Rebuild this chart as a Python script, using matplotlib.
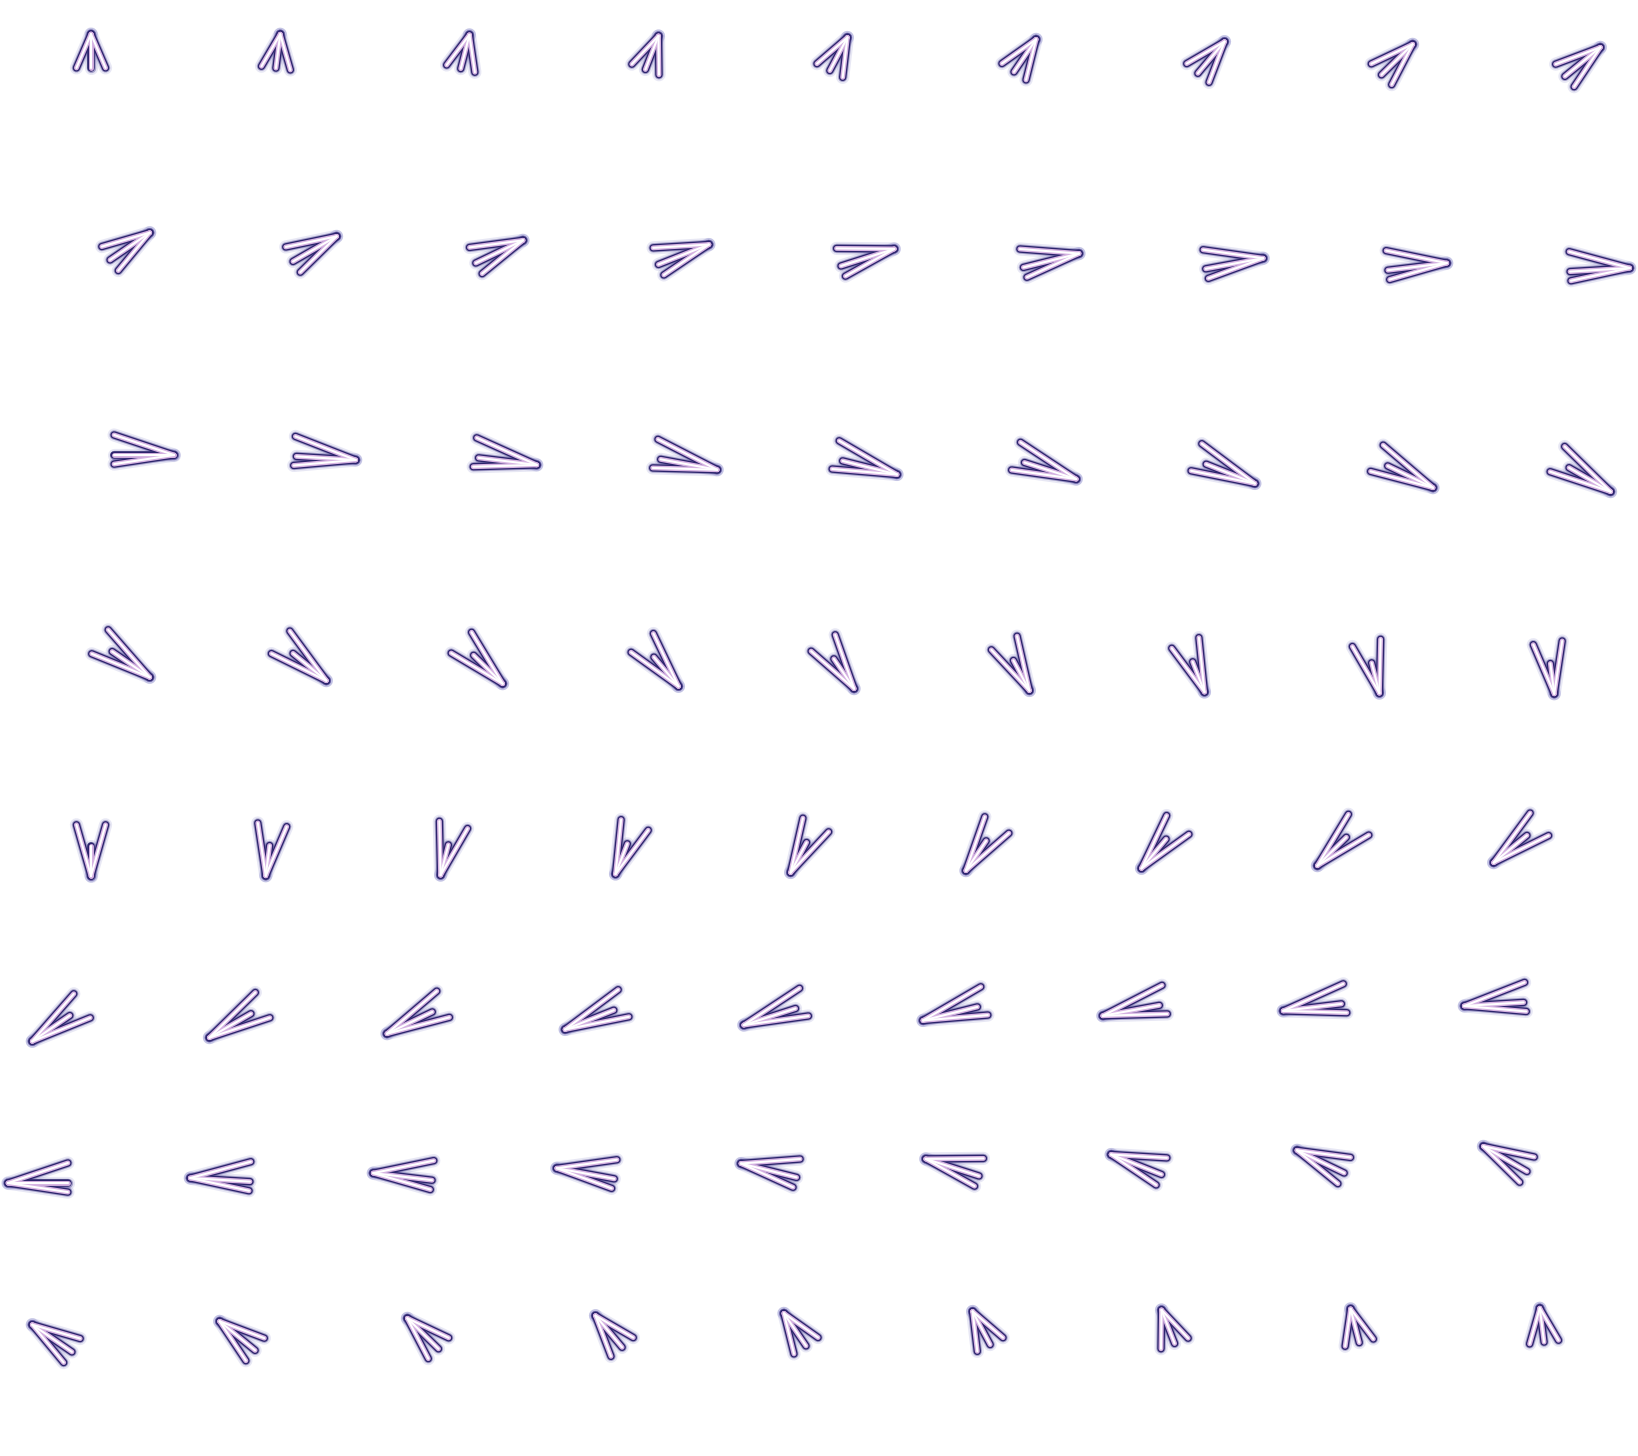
import numpy as np
import matplotlib
matplotlib.use("Agg")
import matplotlib.pyplot as plt
from matplotlib.collections import LineCollection

# grid of arrow anchors (cell centres)
cols = np.arange(9)
rows = np.arange(8)

# arrow direction per cell, degrees (0 = right, 90 = up), read row by row
angles_r1 = [90, 85, 80, 75, 70, 65, 60, 55, 50]
angles_r2 = [45, 40, 35, 30, 25, 20, 15, 10, 5]
angles_r3 = [0, -5, -10, -15, -20, -25, -30, -35, -40]
angles_r4 = [-45, -50, -55, -60, -65, -70, -75, -80, -85]
angles_r5 = [-90, -95, -100, -105, -110, -115, -120, -125, -130]
angles_r6 = [-135, -140, -145, -150, -155, -160, -165, -170, -175]
angles_r7 = [180, 175, 170, 165, 160, 155, 150, 145, 140]
angles_r8 = [135, 130, 125, 120, 115, 110, 105, 100, 95]
angles = [angles_r1, angles_r2, angles_r3, angles_r4,
          angles_r5, angles_r6, angles_r7, angles_r8]

# glyph geometry, in cell units (one cell = 182 px)
TIP_X, TIP_Y = 0.456, 0.313   # tip reach; vertical is flattened
TAIL = 0.127                  # tail distance from anchor along the arrow
HALF = 0.080                  # half spread of the two barbs
LIFT = 0.03                   # near-horizontal arrows: barbs sit higher
DOWN_TAIL = 0.02              # pointing down: shaft looks shorter...
DOWN_BARB = 0.095             # ...and barbs reach further back


def glyph_segments(x0, y0, deg):
    """shaft + two barbs for one arrow"""
    t = np.deg2rad(deg)
    c, s = np.cos(t), np.sin(t)
    anchor = np.array([x0, y0])
    tip = anchor + np.array([TIP_X * c, -TIP_Y * s])
    u = (tip - anchor) / np.hypot(*(tip - anchor))
    n = np.array([-u[1], u[0]])
    down = max(0.0, -s)
    tail = anchor + (TAIL + DOWN_TAIL * down) * u
    back = anchor + (TAIL - DOWN_BARB * down) * u + np.array([0, -LIFT * c ** 4])
    return [[tail, tip], [tip, back + HALF * n], [tip, back - HALF * n]]


segments = []
for r in rows:
    for c in cols:
        segments.extend(glyph_segments(c, r, angles[r][c]))

fig = plt.figure(figsize=(16.38, 14.56), dpi=100)
ax = fig.add_axes([0, 0, 1, 1])
ax.set_xlim(-0.5, 8.5)
ax.set_ylim(7.5, -0.5)
ax.axis('off')

# neon look: soft haze, dark rim, lavender body, white core
layers = [
    ('#7070c0', 9.5, 0.16),
    ('#463b8e', 6.8, 0.40),
    ('#2c246c', 5.4, 1.0),
    ('#d6b3e2', 3.5, 1.0),
    ('#ffffff', 1.5, 1.0),
]
for color, lw, alpha in layers:
    lc = LineCollection(segments, colors=color, linewidths=lw, alpha=alpha,
                        capstyle='round', joinstyle='round')
    ax.add_collection(lc)

fig.savefig('out.png', dpi=100)
plt.close(fig)
